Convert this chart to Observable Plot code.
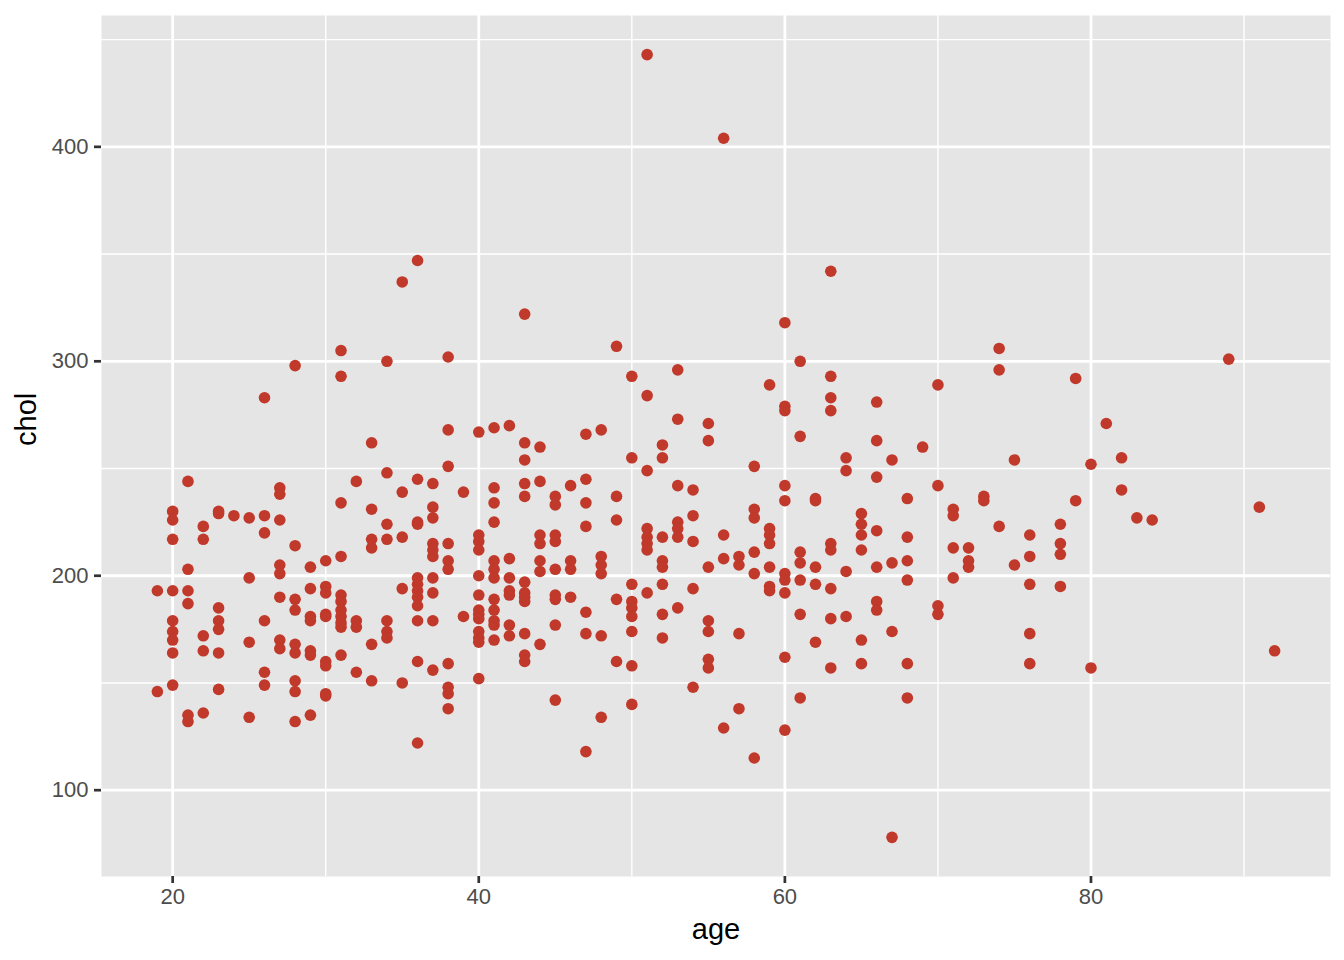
<!DOCTYPE html>
<html>
<head>
<meta charset="utf-8">
<script src="https://cdn.jsdelivr.net/npm/d3@7"></script>
<script src="https://cdn.jsdelivr.net/npm/@observablehq/plot@0.6"></script>
<style>
  html, body { margin: 0; padding: 0; background: #ffffff; }
  #chart svg { display: block; }
</style>
</head>
<body>
<div id="chart"></div>
<script>
// ages present in the data (x) and the cholesterol readings at each age (y)
const ageValues = [19,20,21,22,23,24,25,26,27,28,29,30,31,32,33,34,35,36,37,38,39,40,41,42,43,44,45,46,47,48,49,50,51,52,53,54,55,56,57,58,59,60,61,62,63,64,65,66,67,68,69,70,71,72,73,74,75,76,78,79,80,81,82,83,84,89,91,92];
const cholByAge = [
  [193,146],
  [230,226,217,193,179,174,170,164,149],
  [244,203,193,187,135,132],
  [223,217,172,165,136],
  [230,229,185,179,175,164,147],
  [228],
  [227,199,169,134],
  [283,228,220,179,155,149],
  [241,238,226,205,201,190,170,166],
  [298,214,189,184,168,164,151,146,132],
  [204,194,181,179,165,163,135],
  [207,195,192,182,181,160,158,145,144],
  [305,293,234,209,191,188,184,181,178,176,163],
  [244,179,176,155],
  [262,231,217,213,168,151],
  [300,248,224,217,179,174,171],
  [337,239,218,194,150],
  [347,245,225,224,199,196,193,190,186,179,160,122],
  [243,232,227,215,212,209,199,192,179,156],
  [302,268,251,215,207,203,159,148,145,138],
  [239,181],
  [267,219,216,212,200,191,184,182,180,174,171,169,152],
  [269,241,234,225,207,203,199,189,184,179,177,170],
  [270,208,199,193,191,177,172],
  [322,262,254,243,237,197,192,190,188,173,163,160],
  [260,244,219,215,207,202,168],
  [237,233,219,216,203,191,189,177,142],
  [242,207,203,190],
  [266,245,234,223,183,173,118],
  [268,209,205,201,172,134],
  [307,237,226,189,160],
  [293,255,196,188,185,181,174,158,140],
  [443,284,249,222,218,215,212,192],
  [261,255,218,207,204,196,182,171],
  [296,273,242,225,222,218,185],
  [240,228,216,194,148],
  [271,263,204,179,174,161,157],
  [404,219,208,129],
  [209,205,173,138],
  [251,231,227,211,201,115],
  [289,222,219,215,204,195,193],
  [318,279,277,242,235,201,198,192,162,128],
  [300,265,211,206,198,182,143],
  [236,235,204,196,169],
  [342,293,283,277,215,212,194,180,157],
  [255,249,202,181],
  [229,224,219,212,170,159],
  [281,263,246,221,204,188,184],
  [254,206,174,78],
  [236,218,207,198,159,143],
  [260],
  [289,242,186,182],
  [231,228,213,199],
  [213,207,204],
  [237,235],
  [306,296,223],
  [254,205],
  [219,209,196,173,159],
  [224,215,210,195],
  [292,235],
  [252,157],
  [271],
  [255,240],
  [227],
  [226],
  [301],
  [232],
  [165]
];

const xTicks = [20, 40, 60, 80];
const xMinor = [30, 50, 70, 90];
const yTicks = [100, 200, 300, 400];
const yMinor = [150, 250, 350, 450];
const xLabel = "age";
const yLabel = "chol";

const rows = ageValues.flatMap((a, i) => cholByAge[i].map(c => ({age: a, chol: c})));

const ageExt = d3.extent(rows, d => d.age);
const cholExt = d3.extent(rows, d => d.chol);
const padX = (ageExt[1] - ageExt[0]) * 0.05;
const padY = (cholExt[1] - cholExt[0]) * 0.05;

const plot = Plot.plot({
  width: 1344,
  height: 960,
  marginLeft: 101,
  marginRight: 14,
  marginTop: 15,
  marginBottom: 84,
  style: {fontFamily: "'Liberation Sans', Arial, Helvetica, sans-serif", background: "#ffffff"},
  x: {domain: [ageExt[0] - padX, ageExt[1] + padX]},
  y: {domain: [cholExt[0] - padY, cholExt[1] + padY]},
  marks: [
    Plot.frame({fill: "#e5e5e5", stroke: null}),
    Plot.ruleX(xMinor, {stroke: "#ffffff", strokeWidth: 1.4}),
    Plot.ruleY(yMinor, {stroke: "#ffffff", strokeWidth: 1.4}),
    Plot.ruleX(xTicks, {stroke: "#ffffff", strokeWidth: 2.8}),
    Plot.ruleY(yTicks, {stroke: "#ffffff", strokeWidth: 2.8}),
    Plot.axisX(xTicks, {tickSize: 7, tickPadding: 5, fontSize: 22, fill: "#4d4d4d", stroke: "#333333", strokeWidth: 2.7, label: null}),
    Plot.axisY(yTicks, {tickSize: 7, tickPadding: 6, fontSize: 22, fill: "#4d4d4d", stroke: "#333333", strokeWidth: 2.7, label: null}),
    Plot.dot(rows, {x: "age", y: "chol", r: 5.8, fill: "#C0392B", stroke: null}),
    Plot.text([xLabel], {text: d => d, frameAnchor: "bottom", dy: 62, fontSize: 29, fill: "#000000"}),
    Plot.text([yLabel], {text: d => d, frameAnchor: "left", rotate: -90, dx: -75, fontSize: 29, fill: "#000000"})
  ]
});

document.getElementById("chart").appendChild(plot);
</script>
</body>
</html>
